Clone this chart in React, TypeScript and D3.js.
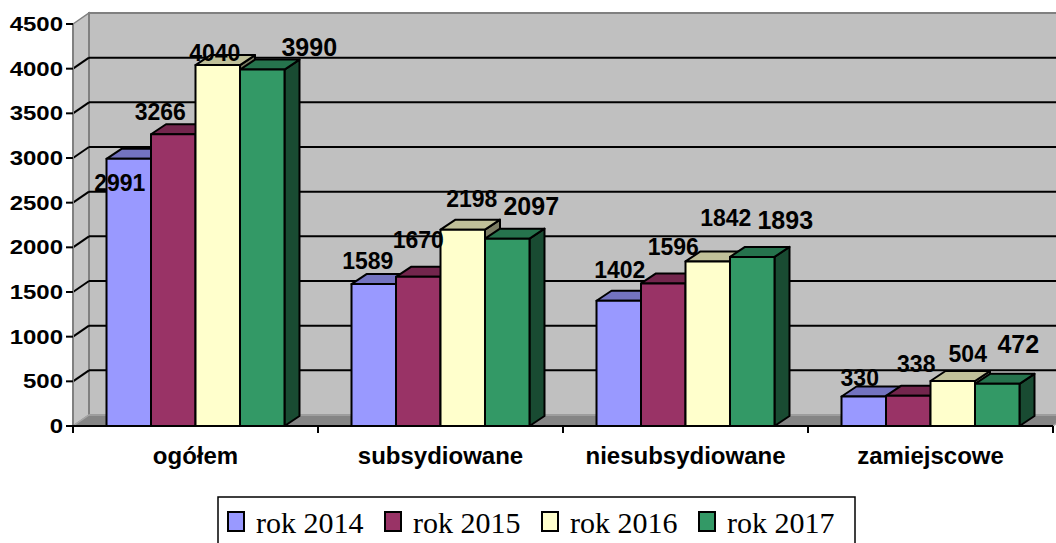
import React from 'react';
import * as d3 from 'd3';

const categories = ['ogółem', 'subsydiowane', 'niesubsydiowane', 'zamiejscowe'];
const seriesNames = ['rok 2014', 'rok 2015', 'rok 2016', 'rok 2017'];
const values2014 = [2991, 1589, 1402, 330];
const values2015 = [3266, 1670, 1596, 338];
const values2016 = [4040, 2198, 1842, 504];
const values2017 = [3990, 2097, 1893, 472];
const yTicks = [0, 500, 1000, 1500, 2000, 2500, 3000, 3500, 4000, 4500];

const colors = ['#9999ff', '#993366', '#ffffcc', '#339966'];

// label nudges (Excel placed them a bit everywhere), [dx, dy] from bar top centre
const labelNudge = [
  [[-9, 32], [-13, -14], [-3, -4], [47, -14]],
  [[-6, -15], [0, -29], [9, -23], [24, -24]],
  [[1, -23], [10, -28], [18, -35], [33, -28]],
  [[-4, -11], [8, -24], [15, -19], [21, -31]],
];

const W = 1056;
const H = 543;
const left = 73;
const right = 1053;
const bottom = 426;
const top = 24;
const wallDx = 16;
const wallDy = -11;
const barDx = 15;
const barDy = -10;
const font = '"Liberation Sans", Arial, sans-serif';

export default function App() {
  const allSeries = [values2014, values2015, values2016, values2017];

  const x0 = d3.scaleBand<string>().domain(categories).range([left, right]);
  const x1 = d3
    .scaleBand<string>()
    .domain(seriesNames)
    .range([0, x0.bandwidth()])
    .paddingInner(0)
    .paddingOuter(0.753);
  const y = d3.scaleLinear().domain([0, 4500]).range([bottom, top]);

  const bars: any[] = [];
  categories.forEach((c, ci) => {
    seriesNames.forEach((s, si) => {
      bars.push({ c, ci, s, si, v: allSeries[si][ci] });
    });
  });

  return (
    <svg
      width={W}
      height={H}
      style={{ position: 'absolute', left: 0, top: 0, background: '#fff' }}
    >
      {/* side wall */}
      <polygon
        points={`${left},${top} ${left + wallDx},${top + wallDy} ${left + wallDx},${bottom + wallDy} ${left},${bottom}`}
        fill="#c4c4c4"
        stroke="#808080"
        strokeWidth={1.5}
      />
      {/* back wall */}
      <rect
        x={left + wallDx}
        y={top + wallDy}
        width={right - left + 10}
        height={bottom - top}
        fill="#c0c0c0"
        stroke="#808080"
        strokeWidth={2}
      />
      {/* floor */}
      <polygon
        points={`${left},${bottom} ${left + wallDx},${bottom + wallDy} ${right + wallDx},${bottom + wallDy} ${right},${bottom}`}
        fill="#858585"
        stroke="#a6a6a6"
        strokeWidth={1.5}
      />
      {/* gridlines */}
      {yTicks
        .filter((t) => t > 0 && t < 4500)
        .map((t) => (
          <g key={t} stroke="#000" strokeWidth={2}>
            <line x1={left} y1={y(t)} x2={left + wallDx} y2={y(t) + wallDy} />
            <line x1={left + wallDx} y1={y(t) + wallDy} x2={W + 5} y2={y(t) + wallDy} />
          </g>
        ))}

      {/* y axis */}
      <line x1={left} y1={top} x2={left} y2={bottom} stroke="#808080" strokeWidth={2} />
      {yTicks.map((t) => (
        <g key={'yt' + t}>
          <line x1={left - 7} y1={y(t)} x2={left} y2={y(t)} stroke="#000" strokeWidth={2} />
          <text
            transform={`translate(${left - 10},${y(t) + 7}) scale(1.2,1)`}
            textAnchor="end"
            fontFamily={font}
            fontWeight="bold"
            fontSize={20}
            fill="#000"
          >
            {t}
          </text>
        </g>
      ))}

      {/* x axis */}
      <line x1={left} y1={bottom} x2={right} y2={bottom} stroke="#000" strokeWidth={2} />
      {[...categories.map((c) => x0(c) as number), right].map((bx, i) => (
        <line key={'xt' + i} x1={bx} y1={bottom} x2={bx} y2={bottom + 7} stroke="#000" strokeWidth={2} />
      ))}
      {categories.map((c) => (
        <text
          key={'cl' + c}
          x={(x0(c) as number) + x0.bandwidth() / 2}
          y={464}
          textAnchor="middle"
          fontFamily={font}
          fontWeight="bold"
          fontSize={24}
          fill="#000"
        >
          {c}
        </text>
      ))}

      {/* bars */}
      {bars.map((b) => {
        const bx = (x0(b.c) as number) + (x1(b.s) as number);
        const bw = x1.bandwidth();
        const by = y(b.v);
        const base = d3.color(colors[b.si]) as d3.RGBColor;
        const topFill = base.darker(0.8).formatHex();
        const sideFill = base.darker(2).formatHex();
        return (
          <g key={b.c + b.s} stroke="#000" strokeWidth={2} strokeLinejoin="round">
            <polygon
              points={`${bx + bw},${by} ${bx + bw + barDx},${by + barDy} ${bx + bw + barDx},${bottom + barDy} ${bx + bw},${bottom}`}
              fill={sideFill}
            />
            <polygon
              points={`${bx},${by} ${bx + barDx},${by + barDy} ${bx + bw + barDx},${by + barDy} ${bx + bw},${by}`}
              fill={topFill}
            />
            <rect x={bx} y={by} width={bw} height={bottom - by} fill={colors[b.si]} />
          </g>
        );
      })}

      {/* value labels */}
      {bars.map((b) => {
        const bx = (x0(b.c) as number) + (x1(b.s) as number) + x1.bandwidth() / 2;
        const [dx, dy] = labelNudge[b.ci][b.si];
        return (
          <text
            key={'vl' + b.c + b.s}
            x={bx + dx}
            y={y(b.v) + dy}
            textAnchor="middle"
            fontFamily={font}
            fontWeight="bold"
            fontSize={b.si === 3 ? 25 : 23}
            fill="#000"
          >
            {b.v}
          </text>
        );
      })}

      {/* legend */}
      <rect x={218} y={497} width={637} height={50} fill="#fff" stroke="#000" strokeWidth={1.5} />
      {seriesNames.map((s, i) => (
        <g key={'lg' + s} transform={`translate(${228 + i * 157},0)`}>
          <rect x={0} y={512} width={16} height={19} fill={colors[i]} stroke="#000" strokeWidth={2} />
          <text
            x={28}
            y={533}
            fontFamily='"Liberation Serif", "Times New Roman", serif'
            fontSize={30}
            fill="#000"
          >
            {s}
          </text>
        </g>
      ))}
    </svg>
  );
}
